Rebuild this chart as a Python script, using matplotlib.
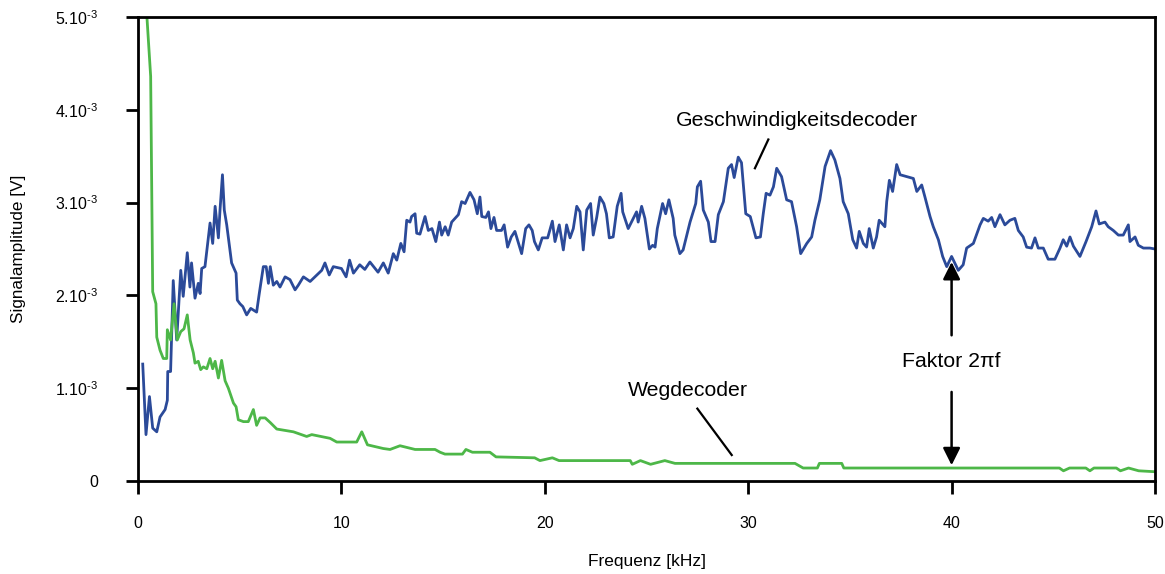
import numpy as np
import matplotlib.pyplot as plt

plt.rcParams['font.family'] = ['Liberation Sans', 'DejaVu Sans']
plt.rcParams['mathtext.fontset'] = 'custom'
plt.rcParams['mathtext.rm'] = 'Liberation Sans'
plt.rcParams['mathtext.it'] = 'Liberation Sans:italic'

# ##############################################################################
# data (amplitude in units of 1e-3 V, frequency in kHz)
geschw_f = [0.23, 0.39, 0.56, 0.72, 0.92, 1.08, 1.33, 1.44, 1.46, 1.60, 1.73, 1.90,
            2.10, 2.22, 2.42, 2.55, 2.63, 2.80, 2.96, 3.05, 3.13, 3.29, 3.54, 3.67,
            3.79, 3.95, 4.03, 4.15, 4.24, 4.36, 4.60, 4.82, 4.88, 5.01, 5.15, 5.34,
            5.54, 5.83, 5.96, 6.16, 6.30, 6.41, 6.50, 6.65, 6.82, 6.98, 7.23, 7.47,
            7.72, 7.88, 8.13, 8.46, 8.70, 9.03, 9.19, 9.40, 9.60, 10.0, 10.23, 10.40,
            10.59, 10.90, 11.15, 11.40, 11.80, 12.06, 12.30, 12.55, 12.72, 12.92, 13.08, 13.21,
            13.37, 13.45, 13.62, 13.70, 13.86, 14.11, 14.27, 14.45, 14.64, 14.82, 14.93, 15.10,
            15.25, 15.42, 15.75, 15.91, 16.08, 16.32, 16.52, 16.68, 16.81, 16.90, 17.10, 17.23,
            17.35, 17.50, 17.63, 17.87, 18.00, 18.17, 18.35, 18.53, 18.86, 19.06, 19.22, 19.38,
            19.49, 19.68, 19.87, 20.14, 20.37, 20.50, 20.71, 20.91, 21.07, 21.24, 21.40, 21.57,
            21.73, 21.89, 22.06, 22.25, 22.38, 22.55, 22.71, 22.90, 23.03, 23.17, 23.36, 23.56,
            23.75, 23.83, 24.10, 24.51, 24.59, 24.76, 24.92, 25.14, 25.30, 25.42, 25.53, 25.79,
            25.94, 26.10, 26.31, 26.39, 26.64, 26.80, 27.14, 27.42, 27.50, 27.66, 27.79, 28.04,
            28.17, 28.37, 28.53, 28.78, 29.02, 29.18, 29.31, 29.51, 29.67, 29.88, 30.10, 30.38,
            30.60, 30.74, 30.88, 31.07, 31.24, 31.40, 31.64, 31.89, 32.13, 32.38, 32.58, 32.88,
            33.12, 33.28, 33.52, 33.78, 34.05, 34.26, 34.51, 34.67, 34.92, 35.14, 35.33, 35.46,
            35.66, 35.82, 35.95, 36.15, 36.31, 36.44, 36.72, 36.81, 36.94, 37.10, 37.30, 37.47,
            37.79, 38.12, 38.29, 38.53, 38.69, 38.94, 39.10, 39.35, 39.56, 39.76, 40.00, 40.33,
            40.57, 40.74, 41.07, 41.40, 41.56, 41.80, 41.97, 42.13, 42.38, 42.62, 42.87, 43.11,
            43.28, 43.52, 43.69, 43.93, 44.10, 44.26, 44.51, 44.75, 45.08, 45.33, 45.49, 45.66,
            45.82, 45.99, 46.31, 46.61, 46.89, 47.10, 47.26, 47.54, 47.70, 47.95, 48.20, 48.44,
            48.69, 48.77, 49.02, 49.18, 49.43, 49.75, 50.00]
geschw_a = [1.26, 0.50, 0.91, 0.57, 0.53, 0.69, 0.77, 0.87, 1.18, 1.18, 2.16, 1.52,
            2.27, 1.99, 2.46, 2.09, 2.35, 1.97, 2.13, 2.02, 2.29, 2.31, 2.78, 2.56,
            2.96, 2.62, 2.92, 3.30, 2.92, 2.76, 2.35, 2.24, 1.95, 1.91, 1.88, 1.79,
            1.86, 1.82, 2.02, 2.31, 2.31, 2.13, 2.31, 2.11, 2.15, 2.09, 2.20, 2.17,
            2.06, 2.11, 2.20, 2.15, 2.20, 2.27, 2.35, 2.22, 2.31, 2.29, 2.20, 2.38,
            2.24, 2.33, 2.28, 2.36, 2.25, 2.35, 2.24, 2.45, 2.38, 2.56, 2.47, 2.81,
            2.79, 2.85, 2.88, 2.67, 2.66, 2.85, 2.70, 2.72, 2.58, 2.79, 2.65, 2.74,
            2.65, 2.79, 2.87, 3.01, 2.99, 3.11, 3.03, 2.88, 3.06, 2.85, 2.84, 2.90,
            2.72, 2.84, 2.70, 2.70, 2.76, 2.52, 2.63, 2.69, 2.45, 2.72, 2.76, 2.70,
            2.58, 2.49, 2.62, 2.62, 2.80, 2.58, 2.76, 2.49, 2.76, 2.62, 2.72, 2.96,
            2.90, 2.49, 2.92, 2.99, 2.65, 2.84, 3.06, 2.99, 2.88, 2.62, 2.63, 2.96,
            3.10, 2.90, 2.72, 2.90, 2.79, 2.96, 2.83, 2.50, 2.54, 2.52, 2.72, 2.99,
            2.88, 3.03, 2.83, 2.65, 2.45, 2.49, 2.79, 2.99, 3.17, 3.23, 2.92, 2.79,
            2.58, 2.58, 2.87, 3.01, 3.37, 3.41, 3.27, 3.49, 3.43, 2.88, 2.85, 2.62,
            2.63, 2.88, 3.10, 3.08, 3.17, 3.37, 3.28, 3.03, 3.01, 2.74, 2.45, 2.56,
            2.63, 2.81, 3.03, 3.39, 3.56, 3.46, 3.26, 3.01, 2.88, 2.60, 2.51, 2.69,
            2.56, 2.52, 2.72, 2.51, 2.63, 2.81, 2.74, 3.01, 3.24, 3.12, 3.41, 3.30,
            3.28, 3.26, 3.12, 3.19, 3.06, 2.85, 2.74, 2.60, 2.42, 2.31, 2.42, 2.27,
            2.33, 2.51, 2.56, 2.76, 2.83, 2.80, 2.84, 2.74, 2.87, 2.76, 2.81, 2.83,
            2.70, 2.63, 2.52, 2.51, 2.62, 2.51, 2.51, 2.39, 2.39, 2.51, 2.60, 2.53,
            2.63, 2.53, 2.42, 2.58, 2.74, 2.91, 2.77, 2.79, 2.74, 2.70, 2.65, 2.65,
            2.76, 2.58, 2.63, 2.54, 2.51, 2.51, 2.50]

weg_f = [0.35, 0.62, 0.72, 0.88, 0.92, 1.08, 1.24, 1.41, 1.44, 1.60, 1.77, 1.93,
         2.10, 2.26, 2.42, 2.56, 2.72, 2.80, 2.96, 3.08, 3.21, 3.38, 3.54, 3.67,
         3.79, 3.95, 4.11, 4.28, 4.44, 4.69, 4.82, 4.93, 5.18, 5.42, 5.67, 5.83,
         6.00, 6.25, 6.50, 6.82, 7.64, 8.29, 8.54, 9.44, 9.77, 10.75, 11.00, 11.28,
         12.06, 12.39, 12.88, 13.62, 14.60, 14.85, 15.09, 15.95, 16.12, 16.44, 17.30, 17.60,
         19.50, 19.76, 20.37, 20.70, 24.20, 24.30, 24.70, 25.20, 25.90, 26.40, 32.30, 32.70,
         33.40, 33.50, 34.60, 34.70, 45.30, 45.50, 45.80, 46.60, 46.80, 47.00, 48.10, 48.30,
         48.70, 49.20, 50.00]
weg_a = [5.30, 4.36, 2.04, 1.91, 1.55, 1.41, 1.32, 1.32, 1.63, 1.52, 1.91, 1.52,
         1.61, 1.64, 1.79, 1.52, 1.38, 1.27, 1.29, 1.20, 1.23, 1.21, 1.32, 1.21,
         1.29, 1.11, 1.30, 1.08, 1.00, 0.84, 0.80, 0.66, 0.64, 0.64, 0.77, 0.60,
         0.68, 0.68, 0.63, 0.56, 0.53, 0.48, 0.50, 0.46, 0.42, 0.42, 0.53, 0.39,
         0.35, 0.34, 0.38, 0.34, 0.34, 0.31, 0.29, 0.29, 0.34, 0.31, 0.31, 0.26,
         0.25, 0.22, 0.25, 0.22, 0.22, 0.18, 0.22, 0.18, 0.22, 0.19, 0.19, 0.14,
         0.14, 0.19, 0.19, 0.14, 0.14, 0.11, 0.14, 0.14, 0.11, 0.14, 0.14, 0.11,
         0.14, 0.11, 0.10]

yticks = [0, 1, 2, 3, 4, 5]
ytick_labels = ['0', r'1.10$^{\text{-3}}$', r'2.10$^{\text{-3}}$', r'3.10$^{\text{-3}}$',
                r'4.10$^{\text{-3}}$', r'5.10$^{\text{-3}}$']
xticks = [0, 10, 20, 30, 40, 50]

blue = '#2b4a99'
green = '#4db748'
# ##############################################################################

fig = plt.figure(figsize=(11.65, 5.74), dpi=100)
ax = fig.add_axes([0.1185, 0.162, 0.8729, 0.8084])

ax.plot(geschw_f, geschw_a, color=blue, lw=2.0)
ax.plot(weg_f, weg_a, color=green, lw=2.0)

ax.set_xlim(0, 50)
ax.set_ylim(0, 5)
ax.set_xticks(xticks)
ax.set_yticks(yticks)
ax.set_yticklabels(ytick_labels)
ax.tick_params(direction='out', length=9, width=2, labelsize=11.5)
ax.tick_params(axis='x', pad=16)
ax.tick_params(axis='y', pad=20)
for s in ax.spines.values():
    s.set_linewidth(2)

ax.set_xlabel('Frequenz [kHz]', fontsize=12.5)
ax.set_ylabel('Signalamplitude [V]', fontsize=12.3)
ax.xaxis.set_label_coords(0.5, -0.158)
ax.yaxis.set_label_coords(-0.110, 0.5)

# annotations
ax.text(32.42, 3.89, 'Geschwindigkeitsdecoder', fontsize=15.3,
        ha='center', va='center')
ax.plot([30.33, 30.99], [3.37, 3.68], color='black', lw=1.6)

ax.text(27.04, 0.98, 'Wegdecoder', fontsize=15.3, ha='center', va='center')
ax.plot([27.5, 29.19], [0.78, 0.28], color='black', lw=1.6)

ax.text(40, 1.29, 'Faktor 2πf', fontsize=15.3, ha='center', va='center')
ax.annotate('', xy=(40, 2.36), xytext=(40, 1.57),
            arrowprops=dict(arrowstyle='-|>', color='black', lw=1.8,
                            mutation_scale=26, shrinkA=0, shrinkB=0))
ax.annotate('', xy=(40, 0.17), xytext=(40, 0.96),
            arrowprops=dict(arrowstyle='-|>', color='black', lw=1.8,
                            mutation_scale=26, shrinkA=0, shrinkB=0))

plt.savefig('out.png', dpi=100)
